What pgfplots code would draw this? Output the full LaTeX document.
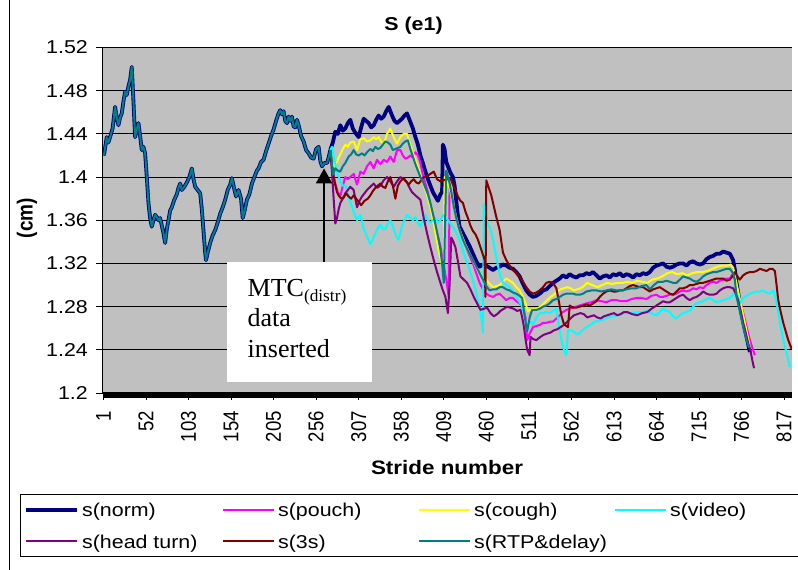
\documentclass[border=0pt]{standalone}
\usepackage{fontspec}
\setmainfont{Liberation Sans}
\newfontfamily\tnr{Liberation Serif}
\usepackage{graphicx}
\usepackage{pgfplots}
\pgfplotsset{compat=1.18}
\usepackage{pgfplotstable}
\usetikzlibrary{arrows.meta}
\definecolor{plotgray}{HTML}{C0C0C0}
\definecolor{cnorm}{HTML}{000080}
\definecolor{cpouch}{HTML}{FF00FF}
\definecolor{ccough}{HTML}{FFFF00}
\definecolor{cvideo}{HTML}{00FFFF}
\definecolor{chead}{HTML}{800080}
\definecolor{cthree}{HTML}{800000}
\definecolor{crtp}{HTML}{008080}
\newcommand{\hs}[1]{\scalebox{1.15}[1]{#1}}
\newcommand{\vs}[1]{\scalebox{1}[1.15]{#1}}
\newcommand{\lgd}[1]{\makebox[132pt][l]{\strut\hs{#1}}}

\pgfplotstableread{
x y
1 1.420
2 1.422
5 1.437
7 1.432
9 1.437
12 1.445
15 1.465
17 1.455
19 1.448
21 1.455
23 1.459
25 1.470
27 1.479
29 1.476
31 1.484
33 1.490
35 1.502
37 1.470
39 1.437
41 1.445
43 1.450
45 1.438
47 1.425
49 1.428
51 1.422
53 1.400
55 1.376
57 1.362
59 1.354
61 1.360
63 1.365
65 1.363
67 1.360
69 1.362
71 1.355
73 1.348
75 1.339
77 1.352
79 1.360
81 1.369
83 1.372
86 1.379
89 1.384
91 1.390
93 1.394
95 1.388
98 1.391
101 1.395
104 1.400
107 1.408
109 1.398
111 1.391
114 1.388
117 1.385
119 1.370
121 1.350
123 1.330
124 1.323
126 1.330
129 1.339
132 1.346
135 1.351
138 1.358
141 1.366
144 1.372
147 1.379
150 1.388
153 1.393
155 1.399
157 1.392
160 1.382
163 1.388
166 1.380
168 1.362
170 1.368
173 1.379
176 1.384
179 1.394
182 1.400
185 1.406
187 1.408
190 1.414
193 1.416
196 1.424
199 1.431
202 1.438
205 1.444
208 1.452
211 1.459
213 1.462
215 1.458
217 1.461
219 1.452
221 1.450
223 1.456
225 1.452
227 1.456
229 1.447
231 1.446
233 1.453
235 1.448
238 1.438
241 1.433
244 1.425
247 1.422
250 1.418
253 1.417
256 1.426
259 1.428
261 1.415
263 1.410
266 1.413
269 1.413
271 1.418
273 1.425
}\commontab

\begin{document}
\begin{tikzpicture}
\useasboundingbox (0pt,0pt) rectangle (798pt,570pt);
\draw[line width=1pt] (9pt,0pt) -- (9pt,570pt);
\begin{axis}[
  at={(103pt,177pt)}, anchor=south west,
  scale only axis, width=689pt, height=345.5pt,
  xmin=0.5, xmax=826.5, ymin=1.2, ymax=1.52,
  axis x line*=bottom, axis y line*=left,
  axis line style={-, line width=1pt, black},
  axis background/.style={fill=plotgray},
  ytick={1.2,1.24,1.28,1.32,1.36,1.4,1.44,1.48,1.52},
  ymajorgrids, major grid style={line width=1pt, black},
  xtick={1,52,...,817}, minor xtick={1,2,...,826},
  tick align=outside, major tick length=7pt, minor tick length=5pt,
  tick style={black, line width=0.8pt}, minor tick style={black, line width=0.45pt},
  xtick pos=left, ytick pos=left,
  tick label style={font=\fontsize{18.6}{22}\selectfont},
  yticklabel={\hs{\pgfmathprintnumber[assume math mode=true,fixed,precision=2]{\tick}}},
  xticklabel={\vs{\pgfmathprintnumber[assume math mode=true,fixed,precision=0]{\tick}}},
  xticklabel style={rotate=90, anchor=east, inner sep=0pt},
  yticklabel style={anchor=east, inner sep=0pt},
  xticklabel shift=11pt, yticklabel shift=8pt,
  title={\hs{S (e1)}},
  title style={font=\bfseries\fontsize{18.6}{22}\selectfont, at={(0.4507,1.0304)}, anchor=base},
  xlabel={\hs{Stride number}},
  xlabel style={font=\bfseries\fontsize{19.5}{22}\selectfont, at={(0.4993,-0.2373)}, anchor=base},
  ylabel={\vs{(cm)}},
  ylabel style={font=\bfseries\fontsize{19}{22}\selectfont, at={(-0.1103,0.5065)}, anchor=center},
  legend columns=4,
  legend cell align=left,
  legend style={at={(-0.1205,-0.2923)}, anchor=north west, draw=black, line width=0.8pt,
    fill=white, inner xsep=4pt, inner ysep=5pt, row sep=10.5pt,
    font=\fontsize{18.6}{22}\selectfont, nodes={inner sep=2pt},
    /tikz/every odd column/.append style={column sep=1pt},
    /tikz/every even column/.append style={column sep=6pt}},
  legend image code/.code={\draw[#1] (0pt,0pt) -- (51pt,0pt);},
  every axis plot/.append style={line join=round},
]
% s(norm)
\addplot[cnorm, line width=3.8pt, forget plot] table {\commontab};
\addplot[cnorm, line width=3.8pt] coordinates {(273,1.425) (276,1.432) (279,1.442) (282,1.440) (285,1.448) (288,1.443) (291,1.445) (294,1.450) (297,1.453) (300,1.445) (303,1.441) (307,1.437) (310,1.446) (313,1.454) (316,1.452) (319,1.450) (322,1.446) (325,1.448) (328,1.453) (331,1.457) (334,1.454) (337,1.456) (340,1.461) (343,1.465) (347,1.457) (350,1.452) (353,1.450) (356,1.452) (359,1.454) (362,1.457) (365,1.459) (369,1.451) (372,1.445) (375,1.437) (378,1.430) (381,1.420) (384,1.413) (387,1.405) (390,1.398) (393,1.392) (396,1.386) (399,1.382) (402,1.378) (405,1.384) (407,1.386) (408,1.430) (410,1.426) (412,1.414) (414,1.410) (417,1.404) (420,1.400) (422,1.392) (424,1.378) (426,1.364) (428,1.354) (432,1.348) (436,1.342) (440,1.336) (444,1.329) (448,1.322) (452,1.317) (456,1.319) (460,1.318) (464,1.316) (468,1.314) (472,1.316) (476,1.317) (480,1.319) (484,1.318) (488,1.316) (492,1.315) (496,1.312) (500,1.308) (504,1.301) (508,1.295) (512,1.291) (516,1.289) (520,1.290) (524,1.292) (528,1.295) (532,1.296) (536,1.299) (540,1.302) (544,1.304) (548,1.306) (552,1.309) (556,1.307) (560,1.310) (564,1.308) (568,1.307) (572,1.309) (576,1.309) (580,1.311) (584,1.310) (588,1.312) (592,1.309) (596,1.306) (600,1.308) (604,1.309) (608,1.307) (612,1.310) (616,1.309) (620,1.311) (624,1.308) (628,1.310) (632,1.309) (636,1.307) (640,1.310) (644,1.309) (648,1.311) (652,1.310) (656,1.312) (660,1.316) (664,1.318) (668,1.319) (672,1.320) (676,1.317) (680,1.316) (684,1.317) (688,1.319) (692,1.320) (696,1.320) (700,1.318) (704,1.321) (708,1.322) (712,1.320) (716,1.319) (720,1.320) (724,1.324) (728,1.326) (732,1.327) (736,1.329) (740,1.329) (744,1.331) (748,1.330) (752,1.329) (756,1.323) (758,1.314) (760,1.302) (763,1.288) (766,1.274) (769,1.262) (772,1.252) (776,1.238)};
\addlegendentry{\lgd{s(norm)}}
% s(pouch)
\addplot[cpouch, line width=2pt] coordinates {(273,1.425) (275,1.415) (277,1.402) (279,1.394) (282,1.386) (285,1.382) (288,1.392) (291,1.400) (294,1.398) (297,1.400) (301,1.403) (305,1.393) (309,1.405) (313,1.403) (317,1.410) (321,1.414) (325,1.408) (329,1.416) (333,1.412) (337,1.416) (341,1.414) (345,1.419) (349,1.414) (353,1.425) (357,1.425) (360,1.420) (363,1.417) (366,1.418) (369,1.420) (372,1.418) (375,1.423) (378,1.420) (381,1.413) (384,1.402) (387,1.394) (390,1.386) (393,1.374) (397,1.362) (401,1.348) (405,1.336) (409,1.318) (412,1.305) (415,1.289) (416,1.394) (419,1.380) (422,1.369) (425,1.360) (428,1.351) (432,1.343) (436,1.335) (440,1.327) (444,1.320) (448,1.311) (452,1.302) (456,1.296) (460,1.292) (464,1.290) (468,1.289) (472,1.291) (476,1.292) (480,1.289) (484,1.286) (488,1.288) (492,1.288) (496,1.285) (500,1.283) (504,1.279) (507,1.270) (509,1.249) (512,1.255) (516,1.261) (520,1.262) (524,1.263) (528,1.265) (532,1.265) (536,1.266) (540,1.266) (544,1.269) (548,1.272) (552,1.275) (556,1.277) (560,1.278) (564,1.279) (568,1.280) (572,1.281) (576,1.282) (580,1.283) (586,1.284) (592,1.286) (598,1.285) (604,1.284) (610,1.286) (616,1.286) (622,1.285) (628,1.285) (634,1.287) (640,1.288) (646,1.288) (652,1.287) (658,1.290) (664,1.291) (668,1.289) (672,1.289) (676,1.290) (680,1.291) (684,1.291) (688,1.292) (692,1.294) (696,1.295) (700,1.294) (704,1.295) (708,1.297) (712,1.296) (716,1.298) (720,1.297) (724,1.300) (728,1.302) (732,1.303) (736,1.302) (740,1.304) (744,1.305) (748,1.306) (752,1.306) (756,1.311) (759,1.303) (762,1.292) (766,1.280) (770,1.268) (773,1.258) (776,1.249) (779,1.242) (782,1.235)};
\addlegendentry{\lgd{s(pouch)}}
% s(cough)
\addplot[ccough, line width=2pt] coordinates {(273,1.425) (275,1.415) (277,1.410) (279,1.412) (281,1.414) (283,1.418) (285,1.421) (288,1.426) (291,1.430) (294,1.428) (297,1.432) (301,1.433) (305,1.425) (309,1.435) (313,1.436) (317,1.433) (321,1.434) (325,1.437) (328,1.435) (331,1.437) (334,1.433) (337,1.430) (341,1.440) (345,1.445) (349,1.437) (353,1.431) (357,1.437) (361,1.440) (365,1.440) (368,1.432) (371,1.425) (374,1.418) (377,1.412) (381,1.402) (385,1.393) (389,1.383) (393,1.372) (397,1.357) (401,1.340) (404,1.328) (407,1.318) (409,1.311) (410,1.400) (413,1.396) (416,1.390) (420,1.376) (424,1.362) (428,1.351) (432,1.343) (436,1.335) (440,1.329) (444,1.323) (448,1.316) (452,1.311) (456,1.308) (460,1.305) (464,1.301) (468,1.298) (472,1.299) (476,1.300) (480,1.303) (484,1.306) (488,1.304) (492,1.302) (496,1.298) (500,1.295) (504,1.289) (507,1.283) (510,1.276) (513,1.277) (517,1.278) (521,1.278) (525,1.280) (529,1.283) (533,1.286) (537,1.289) (541,1.291) (545,1.294) (549,1.296) (553,1.297) (557,1.298) (561,1.297) (565,1.295) (569,1.296) (573,1.297) (577,1.299) (581,1.302) (587,1.300) (593,1.298) (599,1.300) (605,1.302) (611,1.301) (617,1.302) (623,1.302) (629,1.303) (635,1.302) (641,1.304) (647,1.303) (653,1.302) (659,1.305) (665,1.306) (671,1.308) (677,1.311) (683,1.312) (689,1.310) (695,1.311) (701,1.309) (707,1.311) (713,1.312) (719,1.312) (725,1.313) (731,1.315) (737,1.317) (743,1.318) (749,1.318) (753,1.319) (756,1.316) (759,1.305) (762,1.294) (765,1.283) (768,1.272) (771,1.261) (774,1.250) (776,1.242)};
\addlegendentry{\lgd{s(cough)}}
% s(video)
\addplot[cvideo, line width=2pt] coordinates {(273,1.425) (275,1.428) (278,1.415) (281,1.405) (285,1.396) (288,1.392) (291,1.392) (294,1.384) (297,1.377) (301,1.368) (305,1.360) (309,1.365) (313,1.352) (317,1.345) (321,1.338) (324,1.342) (328,1.350) (333,1.356) (336,1.352) (339,1.352) (342,1.357) (345,1.360) (349,1.352) (352,1.345) (355,1.342) (359,1.355) (362,1.360) (365,1.365) (369,1.362) (372,1.360) (375,1.363) (378,1.358) (381,1.354) (384,1.360) (387,1.365) (390,1.360) (393,1.358) (396,1.360) (399,1.362) (402,1.358) (405,1.360) (408,1.365) (411,1.362) (414,1.360) (417,1.357) (420,1.354) (423,1.350) (426,1.345) (429,1.340) (432,1.332) (436,1.323) (440,1.314) (444,1.304) (448,1.293) (451,1.283) (454,1.270) (456,1.256) (457,1.375) (459,1.368) (462,1.356) (465,1.352) (468,1.342) (471,1.330) (474,1.318) (477,1.308) (480,1.302) (484,1.300) (488,1.298) (492,1.294) (496,1.289) (500,1.284) (504,1.279) (507,1.266) (510,1.265) (513,1.266) (516,1.263) (520,1.270) (524,1.274) (528,1.274) (532,1.275) (536,1.274) (540,1.276) (544,1.278) (548,1.258) (551,1.245) (553,1.240) (556,1.235) (558,1.258) (562,1.258) (566,1.256) (570,1.254) (575,1.258) (580,1.261) (585,1.263) (590,1.266) (595,1.267) (600,1.268) (606,1.270) (612,1.271) (618,1.272) (624,1.274) (630,1.274) (636,1.274) (642,1.275) (648,1.275) (652,1.276) (656,1.275) (660,1.273) (664,1.272) (668,1.275) (672,1.278) (676,1.276) (680,1.275) (684,1.271) (688,1.269) (692,1.272) (696,1.274) (700,1.275) (704,1.276) (708,1.280) (712,1.283) (716,1.284) (720,1.285) (724,1.287) (728,1.288) (732,1.286) (736,1.284) (740,1.285) (744,1.286) (748,1.287) (752,1.288) (756,1.291) (760,1.293) (764,1.283) (768,1.288) (772,1.290) (776,1.292) (780,1.293) (784,1.294) (788,1.294) (792,1.295) (796,1.293) (800,1.292) (804,1.295) (807,1.288) (810,1.275) (813,1.261) (816,1.250) (819,1.240) (822,1.231) (824,1.224)};
\addlegendentry{\lgd{s(video)}}
% s(head turn)
\addplot[chead, line width=2pt] coordinates {(273,1.425) (275,1.405) (277,1.380) (279,1.357) (281,1.362) (283,1.370) (285,1.376) (288,1.380) (291,1.385) (294,1.388) (297,1.391) (301,1.388) (303,1.380) (305,1.372) (308,1.378) (311,1.382) (314,1.385) (317,1.388) (321,1.391) (325,1.394) (329,1.390) (333,1.392) (337,1.397) (341,1.400) (345,1.396) (349,1.391) (353,1.396) (357,1.400) (361,1.398) (365,1.395) (368,1.390) (371,1.386) (375,1.383) (378,1.381) (381,1.379) (385,1.362) (389,1.348) (393,1.335) (397,1.323) (401,1.312) (405,1.302) (408,1.295) (411,1.289) (414,1.274) (416,1.300) (418,1.344) (420,1.341) (423,1.335) (426,1.322) (429,1.308) (433,1.305) (437,1.302) (441,1.296) (445,1.289) (449,1.283) (453,1.277) (457,1.278) (461,1.279) (465,1.274) (469,1.271) (473,1.273) (477,1.276) (481,1.278) (485,1.280) (489,1.279) (493,1.278) (497,1.276) (501,1.277) (503,1.270) (505,1.262) (507,1.250) (509,1.240) (512,1.235) (513,1.252) (516,1.250) (520,1.249) (525,1.252) (529,1.254) (533,1.255) (537,1.256) (541,1.258) (545,1.259) (549,1.261) (553,1.263) (557,1.266) (561,1.269) (565,1.272) (569,1.273) (573,1.274) (577,1.273) (581,1.270) (585,1.271) (589,1.272) (593,1.270) (597,1.269) (601,1.271) (605,1.272) (609,1.273) (613,1.274) (617,1.272) (621,1.273) (625,1.275) (629,1.275) (635,1.273) (641,1.272) (647,1.274) (653,1.275) (658,1.278) (664,1.281) (668,1.283) (672,1.285) (676,1.284) (680,1.284) (684,1.286) (688,1.288) (692,1.290) (696,1.291) (700,1.288) (704,1.286) (708,1.288) (712,1.289) (716,1.291) (720,1.294) (724,1.292) (728,1.291) (732,1.291) (736,1.292) (740,1.295) (744,1.297) (748,1.298) (752,1.298) (756,1.297) (759,1.292) (762,1.286) (765,1.276) (768,1.265) (771,1.256) (774,1.246) (777,1.238) (779,1.230) (781,1.223)};
\addlegendentry{\lgd{s(head turn)}}
% s(3s)
\addplot[cthree, line width=2pt] coordinates {(273,1.425) (275,1.410) (278,1.396) (281,1.386) (283,1.383) (286,1.380) (289,1.381) (292,1.385) (295,1.382) (298,1.380) (301,1.383) (304,1.380) (307,1.377) (310,1.374) (314,1.378) (318,1.380) (321,1.383) (324,1.387) (327,1.390) (330,1.392) (333,1.394) (336,1.391) (339,1.390) (342,1.396) (345,1.400) (348,1.392) (351,1.380) (354,1.392) (357,1.396) (361,1.399) (364,1.396) (367,1.393) (370,1.396) (373,1.398) (376,1.395) (379,1.394) (382,1.397) (385,1.400) (389,1.401) (393,1.403) (397,1.405) (401,1.398) (405,1.396) (409,1.397) (413,1.398) (417,1.399) (420,1.393) (423,1.388) (426,1.382) (429,1.378) (432,1.376) (435,1.368) (438,1.362) (441,1.355) (444,1.350) (447,1.347) (450,1.342) (453,1.335) (456,1.328) (458,1.323) (459,1.289) (460,1.397) (463,1.390) (466,1.383) (469,1.373) (472,1.363) (476,1.351) (480,1.330) (484,1.323) (488,1.318) (492,1.314) (496,1.311) (500,1.308) (504,1.303) (508,1.298) (512,1.294) (516,1.292) (520,1.293) (524,1.295) (528,1.298) (532,1.302) (536,1.303) (540,1.302) (544,1.297) (547,1.285) (550,1.272) (553,1.264) (556,1.262) (558,1.261) (560,1.281) (564,1.279) (568,1.279) (572,1.280) (576,1.281) (580,1.282) (584,1.281) (588,1.283) (592,1.285) (596,1.289) (600,1.292) (604,1.294) (608,1.295) (612,1.294) (616,1.294) (620,1.295) (624,1.295) (628,1.297) (632,1.299) (636,1.300) (640,1.299) (644,1.298) (648,1.298) (652,1.296) (656,1.294) (660,1.296) (664,1.297) (668,1.298) (672,1.296) (676,1.294) (680,1.292) (684,1.291) (688,1.294) (692,1.297) (696,1.297) (700,1.298) (704,1.300) (708,1.300) (712,1.301) (716,1.302) (720,1.302) (724,1.303) (728,1.304) (732,1.305) (736,1.306) (740,1.306) (744,1.306) (748,1.304) (752,1.305) (756,1.309) (758,1.312) (761,1.308) (764,1.305) (768,1.309) (772,1.311) (776,1.312) (780,1.312) (784,1.313) (788,1.315) (792,1.314) (796,1.313) (800,1.315) (803,1.315) (806,1.313) (808,1.300) (810,1.286) (813,1.275) (816,1.265) (819,1.257) (822,1.249) (826,1.241)};
\addlegendentry{\lgd{s(3s)}}
% s(RTP&delay)
\addplot[crtp, line width=2pt, forget plot] table {\commontab};
\addplot[crtp, line width=2pt] coordinates {(273,1.425) (275,1.414) (276,1.402) (279,1.408) (282,1.406) (285,1.405) (288,1.410) (291,1.413) (295,1.419) (298,1.421) (301,1.425) (304,1.421) (307,1.420) (311,1.422) (314,1.420) (317,1.423) (321,1.426) (324,1.424) (327,1.428) (330,1.426) (333,1.427) (336,1.430) (339,1.433) (342,1.432) (345,1.430) (348,1.425) (351,1.426) (354,1.427) (357,1.428) (360,1.431) (363,1.433) (366,1.434) (369,1.426) (372,1.419) (375,1.412) (378,1.406) (381,1.400) (384,1.396) (387,1.390) (390,1.384) (393,1.376) (396,1.366) (399,1.356) (402,1.345) (405,1.333) (407,1.320) (409,1.302) (412,1.406) (415,1.398) (418,1.386) (421,1.373) (424,1.362) (428,1.351) (432,1.342) (436,1.335) (440,1.329) (444,1.323) (448,1.317) (452,1.311) (456,1.305) (460,1.299) (464,1.295) (468,1.296) (472,1.296) (476,1.298) (480,1.298) (484,1.296) (488,1.295) (492,1.293) (496,1.292) (500,1.290) (503,1.288) (506,1.271) (509,1.257) (512,1.270) (515,1.277) (520,1.277) (524,1.278) (528,1.280) (532,1.281) (536,1.283) (540,1.286) (544,1.287) (548,1.289) (552,1.291) (556,1.292) (560,1.292) (564,1.292) (568,1.291) (572,1.291) (576,1.292) (580,1.294) (586,1.295) (592,1.295) (598,1.294) (604,1.295) (610,1.296) (616,1.295) (622,1.295) (628,1.296) (634,1.297) (640,1.297) (646,1.299) (652,1.300) (656,1.296) (661,1.300) (666,1.303) (672,1.303) (676,1.304) (680,1.303) (684,1.302) (688,1.302) (692,1.305) (696,1.308) (700,1.307) (704,1.306) (708,1.304) (712,1.303) (716,1.305) (720,1.308) (724,1.310) (728,1.311) (732,1.312) (736,1.312) (740,1.313) (744,1.314) (748,1.315) (752,1.315) (756,1.311) (758,1.305) (760,1.289) (763,1.279) (766,1.268) (769,1.258) (772,1.249) (775,1.242)};
\addlegendentry{\lgd{s(RTP\&delay)}}
% annotation
\fill[white] (axis cs:149.5,1.2099) rectangle (axis cs:322.7,1.321);
\draw[line width=2pt, -{Triangle[width=16pt,length=15pt]}] (axis cs:265.5,1.321) -- (axis cs:265.5,1.408);
\node[anchor=base west, inner sep=0pt, font=\tnr\fontsize{26}{30}\selectfont] at (axis cs:173.7,1.2892) {MTC\raisebox{-5pt}{\fontsize{17.3}{20}\selectfont(distr)}};
\node[anchor=base west, inner sep=0pt, font=\tnr\fontsize{26}{30}\selectfont] at (axis cs:173.7,1.2614) {data};
\node[anchor=base west, inner sep=0pt, font=\tnr\fontsize{26}{30}\selectfont] at (axis cs:173.7,1.2331) {inserted};
\end{axis}
\end{tikzpicture}
\end{document}
